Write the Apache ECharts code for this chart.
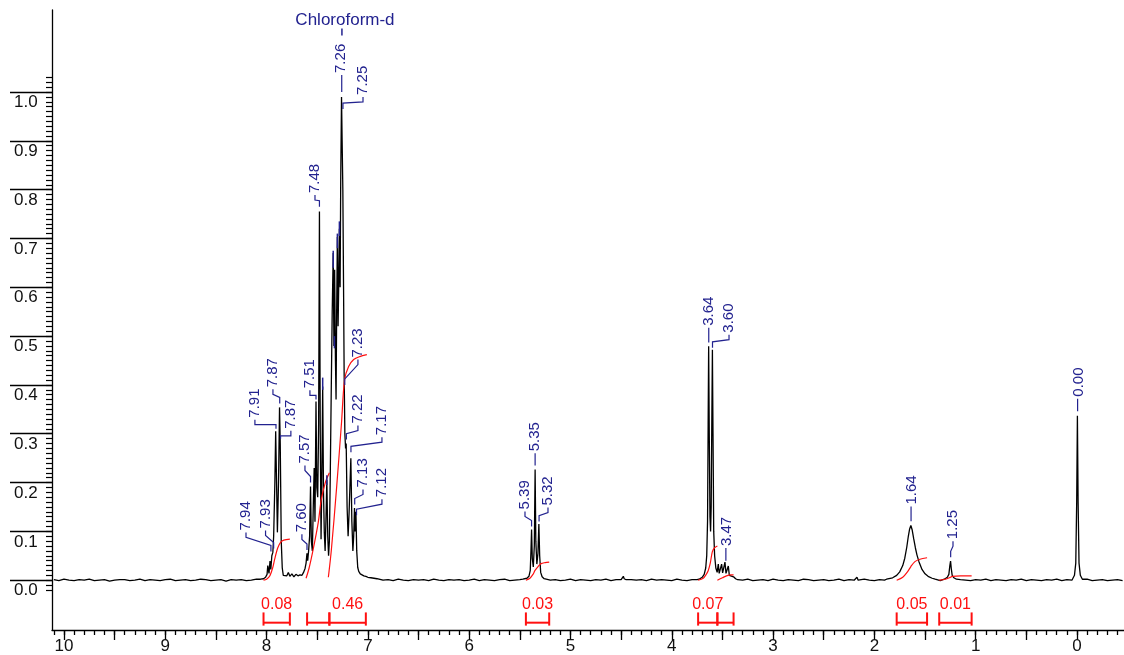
<!DOCTYPE html>
<html>
<head>
<meta charset="utf-8">
<title>1H NMR</title>
<script src="https://cdn.jsdelivr.net/npm/echarts@6/dist/echarts.min.js"></script>
<style>
html,body{margin:0;padding:0;background:#fff;}
#nmr{width:1124px;height:655px;}
</style>
</head>
<body>
<div id="nmr"></div>
<script>
//*******************************    data start   *******************************
// baseline noise, 1/1000 units, every 0.05 ppm from 10.10 down to -0.45
var baseNoise = [
 1,-1,2,0,-1,1,0,2,-1,0,1,-2,0,1,1,-1,0,2,-1,1,
 0,-1,1,2,-1,0,1,-1,0,2,1,-1,0,1,-2,1,0,1,-1,0,
 2,-1,1,0,-1,1,2,0,-1,1,0,-1,2,1,-1,0,1,-1,0,2,
 -1,1,0,-2,1,0,1,-1,2,0,-1,1,0,1,-1,2,0,-1,1,0,
 1,-1,0,2,-1,1,0,-1,1,2,-1,0,1,-1,0,1,2,-1,0,1,
 -1,0,2,-1,1,0,-1,1,0,2,-1,1,0,-2,1,0,1,-1,2,0,
 1,0,-1,2,0,-1,1,1,-1,0,2,-1,1,0,-1,1,0,2,-1,0,
 1,-1,2,0,-1,1,0,-1,2,1,-1,0,1,-1,0,2,-1,1,0,-1,
 2,0,-1,1,0,-1,1,2,-1,0,1,-1,0,1,2,-1,0,1,-1,1,
 0,-1,1,0,2,-1,1,0,-1,1,0,2,-1,1,0,-1,1,0,2,-1,
 1,0,-1,1,2,-1,0,1,-1,0,1,-1
];

// [ppm, intensity]
var aromatic = [
 [8.06,0.002],[8.03,0.003],[8.01,0.006],[7.995,0.012],[7.988,0.03],[7.983,0.033],[7.976,0.014],
 [7.966,0.039],[7.958,0.022],[7.948,0.05],[7.938,0.057],[7.93,0.09],[7.918,0.2],[7.91,0.305],
 [7.903,0.22],[7.893,0.098],[7.882,0.2],[7.872,0.354],[7.865,0.28],[7.855,0.08],[7.845,0.025],
 [7.835,0.01],[7.82,0.014],[7.80,0.009],[7.785,0.016],[7.77,0.008],[7.75,0.013],[7.73,0.007],
 [7.71,0.012],[7.69,0.009],[7.67,0.011],[7.65,0.01],[7.635,0.016],[7.62,0.024],[7.61,0.035],
 [7.601,0.055],[7.594,0.04],[7.585,0.06],[7.575,0.09],[7.566,0.192],[7.558,0.08],[7.548,0.06],
 [7.538,0.16],[7.53,0.23],[7.522,0.12],[7.512,0.366],[7.504,0.19],[7.495,0.17],[7.486,0.32],
 [7.478,0.755],[7.47,0.3],[7.462,0.084],[7.455,0.2],[7.446,0.397],[7.438,0.18],[7.43,0.098],
 [7.422,0.06],[7.414,0.12],[7.405,0.206],[7.396,0.09],[7.388,0.05],[7.38,0.08],[7.372,0.2],
 [7.362,0.38],[7.352,0.55],[7.342,0.67],[7.335,0.48],[7.328,0.636],[7.32,0.45],[7.314,0.37],
 [7.308,0.55],[7.301,0.703],[7.294,0.52],[7.288,0.6],[7.281,0.72],[7.274,0.6],[7.268,0.82],
 [7.26,0.99],[7.254,0.9],[7.247,0.8],[7.24,0.6],[7.234,0.42],[7.227,0.3],[7.22,0.27],
 [7.214,0.28],[7.205,0.15],[7.195,0.09],[7.185,0.14],[7.168,0.25],[7.158,0.12],[7.148,0.06],
 [7.14,0.09],[7.132,0.148],[7.126,0.1],[7.118,0.14],[7.11,0.06],[7.10,0.026],[7.09,0.018],
 [7.075,0.013],[7.06,0.012],[7.04,0.009],[7.02,0.008],[7.0,0.006],[6.97,0.005],[6.94,0.004],
 [6.91,0.003]
];
var olefin = [
 [5.47,0.002],[5.43,0.004],[5.41,0.008],[5.397,0.02],[5.39,0.06],[5.384,0.104],[5.377,0.045],
 [5.367,0.027],[5.357,0.07],[5.349,0.227],[5.342,0.08],[5.332,0.033],[5.321,0.055],[5.312,0.115],
 [5.304,0.05],[5.294,0.016],[5.28,0.007],[5.26,0.003]
];
var smallBump = [[4.5,0.001],[4.478,0.008],[4.47,0.003],[4.462,0.007],[4.45,0.001]];
var methoxy = [
 [3.73,0.002],[3.70,0.006],[3.68,0.012],[3.665,0.025],[3.655,0.05],[3.647,0.12],[3.641,0.32],
 [3.636,0.479],[3.63,0.3],[3.623,0.13],[3.617,0.1],[3.611,0.15],[3.605,0.32],[3.599,0.472],
 [3.593,0.3],[3.586,0.1],[3.577,0.05],[3.565,0.025],[3.552,0.016],[3.541,0.033],[3.532,0.014],
 [3.518,0.018],[3.508,0.033],[3.498,0.015],[3.485,0.017],[3.475,0.037],[3.465,0.014],[3.452,0.012],
 [3.442,0.029],[3.432,0.01],[3.415,0.006],[3.39,0.007],[3.37,0.003]
];
var tinySpike = [[2.185,0.0],[2.172,0.006],[2.16,0.0]];
var broad = [
 [1.88,0.002],[1.82,0.005],[1.78,0.01],[1.75,0.017],[1.72,0.03],[1.70,0.045],[1.68,0.068],
 [1.665,0.09],[1.652,0.105],[1.64,0.112],[1.628,0.104],[1.612,0.085],[1.595,0.066],[1.58,0.052],
 [1.56,0.038],[1.53,0.022],[1.50,0.013],[1.47,0.008],[1.43,0.004]
];
var ethyl = [
 [1.31,0.002],[1.28,0.006],[1.265,0.012],[1.255,0.03],[1.248,0.039],[1.241,0.024],[1.232,0.01],
 [1.215,0.005],[1.19,0.002]
];
var tms = [
 [0.045,0.002],[0.025,0.01],[0.012,0.035],[0.003,0.16],[-0.004,0.337],[-0.011,0.16],
 [-0.02,0.035],[-0.033,0.01],[-0.053,0.002]
];

// [text, label ppm, label bottom, peak ppm, line end]
var peakLabels = [
 ['7.94', 8.203, 0.102, 7.957, 0.059],
 ['7.93', 8.010, 0.106, 7.930, 0.065],
 ['7.91', 8.115, 0.333, 7.907, 0.310],
 ['7.87', 7.937, 0.395, 7.870, 0.362],
 ['7.87', 7.760, 0.310, 7.862, 0.290],
 ['7.60', 7.651, 0.098, 7.601, 0.062],
 ['7.57', 7.621, 0.239, 7.566, 0.200],
 ['7.51', 7.572, 0.393, 7.512, 0.370],
 ['7.48', 7.522, 0.793, 7.478, 0.765],
 ['7.26', 7.266, 1.039, 7.258, 1.000],
 ['7.25', 7.048, 0.994, 7.246, 0.965],
 ['7.23', 7.098, 0.456, 7.228, 0.400],
 ['7.22', 7.098, 0.321, 7.212, 0.288],
 ['7.17', 6.861, 0.297, 7.167, 0.262],
 ['7.13', 7.048, 0.190, 7.130, 0.155],
 ['7.12', 6.861, 0.170, 7.112, 0.133],
 ['5.39', 5.449, 0.145, 5.384, 0.110],
 ['5.35', 5.350, 0.264, 5.349, 0.235],
 ['5.32', 5.222, 0.153, 5.310, 0.120],
 ['3.64', 3.633, 0.521, 3.635, 0.487],
 ['3.60', 3.435, 0.507, 3.598, 0.476],
 ['3.47', 3.455, 0.070, 3.466, 0.040],
 ['1.64', 1.629, 0.155, 1.638, 0.121],
 ['1.25', 1.224, 0.084, 1.247, 0.047],
 ['0.00', -0.020, 0.376, -0.006, 0.346]
];
// picked peaks without visible text: [ppm, top, bottom]
var peakMarks = [
 [7.446,0.415,0.39],[7.405,0.215,0.195],[7.342,0.675,0.64],[7.33,0.5,0.475],
 [7.301,0.71,0.68],[7.281,0.735,0.705]
];
var solvent = ['Chloroform-d', 7.226, 1.147, 7.256, 1.13, 1.116];

// integrals: [from, to, value text]
var integrals = [
 [8.03, 7.77, '0.08'],
 [7.60, 7.38, ''],
 [7.38, 7.02, '0.46'],
 [5.44, 5.21, '0.03'],
 [3.74, 3.55, '0.07'],
 [3.55, 3.39, ''],
 [1.78, 1.48, '0.05'],
 [1.36, 1.04, '0.01']
];
var integralCurves = [
 [[8.03,0],[8.0,0.002],[7.97,0.008],[7.94,0.025],[7.92,0.043],[7.89,0.066],[7.86,0.078],[7.83,0.082],[7.77,0.084]],
 [[7.61,0.004],[7.58,0.025],[7.54,0.063],[7.49,0.118],[7.46,0.165],[7.42,0.2],[7.38,0.22]],
 [[7.39,0.006],[7.36,0.063],[7.31,0.186],[7.26,0.323],[7.23,0.411],[7.19,0.438],[7.14,0.452],[7.08,0.458],[7.01,0.462]],
 [[5.44,0],[5.40,0.004],[5.37,0.012],[5.35,0.02],[5.32,0.028],[5.29,0.034],[5.25,0.036],[5.21,0.037]],
 [[3.74,0],[3.69,0.004],[3.66,0.012],[3.64,0.02],[3.62,0.035],[3.60,0.058],[3.58,0.066],[3.55,0.07]],
 [[3.55,0],[3.50,0.005],[3.46,0.009],[3.42,0.011],[3.39,0.011]],
 [[1.78,0],[1.72,0.006],[1.67,0.018],[1.64,0.028],[1.60,0.038],[1.55,0.043],[1.48,0.046]],
 [[1.36,0],[1.30,0.002],[1.26,0.005],[1.23,0.008],[1.15,0.009],[1.04,0.009]]
];

var xLabels = [0,1,2,3,4,5,6,7,8,9,10];
var yLabels = [0,0.1,0.2,0.3,0.4,0.5,0.6,0.7,0.8,0.9,1.0];
//*******************************    data end   *******************************

var navy = '#22228f';
var red = '#ff1010';
var font = '"Liberation Sans", Arial, sans-serif';

// bracket row under the spectrum (intensity units)
var bracketY = -0.087, bracketTop = -0.066, bracketBottom = -0.093, bracketText = -0.049;

var xMinorTicks = [], xHalfTicks = [], yMinorTicks = [];
for (var i = -4; i <= 101; i++) xMinorTicks.push(i / 10);
for (i = 0; i <= 20; i++) xHalfTicks.push(i / 2);
for (i = -2; i <= 103; i++) yMinorTicks.push(i / 100);

// spectrum = baseline noise outside the peak groups + peak points
var peakGroups = [aromatic, olefin, smallBump, methoxy, tinySpike, broad, ethyl, tms];
var spectrum = [];
baseNoise.forEach(function (n, k) {
    var ppm = +(10.10 - k * 0.05).toFixed(2);
    var inside = peakGroups.some(function (g) {
        return ppm <= g[0][0] && ppm >= g[g.length - 1][0];
    });
    if (!inside) spectrum.push([ppm, n / 1000]);
});
peakGroups.forEach(function (g) { spectrum = spectrum.concat(g); });
spectrum.sort(function (a, b) { return b[0] - a[0]; });

var nmrChart = echarts.init(document.getElementById('nmr'));

var xBase = {
    type: 'value', inverse: true, min: -0.464, max: 10.118,
    position: 'bottom', offset: 0,
    splitLine: {show: false}
};
var yBase = {
    type: 'value', min: -0.102, max: 1.168,
    position: 'left', offset: 0,
    splitLine: {show: false}
};

var series = [{
    type: 'line',
    data: spectrum,
    showSymbol: false,
    lineStyle: {color: '#000', width: 1.3},
    z: 3
}];

integralCurves.forEach(function (c) {
    series.push({
        type: 'line', data: c, showSymbol: false, smooth: 0.3,
        lineStyle: {color: red, width: 1.2}, z: 4
    });
});

// integral brackets and values
series.push({
    type: 'custom',
    data: integrals.map(function (d) { return [d[0], d[1]]; }),
    clip: false,
    z: 5,
    renderItem: function (params, api) {
        var a = api.coord([api.value(0), bracketY]);
        var b = api.coord([api.value(1), bracketY]);
        var top = api.coord([0, bracketTop])[1];
        var bot = api.coord([0, bracketBottom])[1];
        var t = api.coord([(api.value(0) + api.value(1)) / 2, bracketText]);
        var ls = {stroke: red, lineWidth: 2};
        return {
            type: 'group',
            children: [
                {type: 'line', shape: {x1: a[0], y1: a[1], x2: b[0], y2: b[1]}, style: ls},
                {type: 'line', shape: {x1: a[0], y1: top, x2: a[0], y2: bot}, style: ls},
                {type: 'line', shape: {x1: b[0], y1: top, x2: b[0], y2: bot}, style: ls},
                {type: 'text', x: t[0], y: t[1], style: {
                    text: integrals[params.dataIndex][2], fill: red,
                    font: '16px ' + font, align: 'center', verticalAlign: 'middle'
                }}
            ]
        };
    }
});

// peak labels with their leader lines
series.push({
    type: 'custom',
    data: peakLabels.map(function (d) { return [d[1], d[2], d[3], d[4]]; }),
    clip: false,
    z: 6,
    renderItem: function (params, api) {
        var t = api.coord([api.value(0), api.value(1)]);
        var p = api.coord([api.value(2), api.value(3)]);
        var y0 = t[1] + 2, y1 = t[1] + 7;
        var y2 = Math.max(y1, p[1] - 6);
        var pts = Math.abs(t[0] - p[0]) < 1.5
            ? [[p[0], y0], [p[0], p[1]]]
            : [[t[0], y0], [t[0], y1], [p[0], y2], [p[0], p[1]]];
        return {
            type: 'group',
            children: [
                {type: 'text', x: t[0], y: t[1], rotation: Math.PI / 2, style: {
                    text: peakLabels[params.dataIndex][0], fill: navy,
                    font: '15px ' + font, align: 'left', verticalAlign: 'middle'
                }},
                {type: 'polyline', shape: {points: pts}, style: {stroke: navy, lineWidth: 1.2, fill: null}}
            ]
        };
    }
});

// short marks of the hidden picks
series.push({
    type: 'custom',
    data: peakMarks,
    clip: false,
    z: 6,
    renderItem: function (params, api) {
        var a = api.coord([api.value(0), api.value(1)]);
        var b = api.coord([api.value(0), api.value(2)]);
        return {type: 'line', shape: {x1: a[0], y1: a[1], x2: b[0], y2: b[1]},
            style: {stroke: navy, lineWidth: 1.5}};
    }
});

// solvent name
series.push({
    type: 'custom',
    data: [[solvent[1], solvent[2], solvent[3], solvent[4], solvent[5]]],
    clip: false,
    z: 6,
    renderItem: function (params, api) {
        var t = api.coord([api.value(0), api.value(1)]);
        var a = api.coord([api.value(2), api.value(3)]);
        var b = api.coord([api.value(2), api.value(4)]);
        return {
            type: 'group',
            children: [
                {type: 'text', x: t[0], y: t[1], style: {
                    text: solvent[0], fill: navy, font: '17px ' + font,
                    align: 'center', verticalAlign: 'middle'
                }},
                {type: 'line', shape: {x1: a[0], y1: a[1], x2: b[0], y2: b[1]},
                    style: {stroke: navy, lineWidth: 1.5}}
            ]
        };
    }
});

nmrChart.setOption({
    animation: false,
    backgroundColor: '#fff',
    grid: {left: 52, right: 0, top: 10, bottom: 24},
    xAxis: [
        echarts.util.merge({
            axisLine: {onZero: false, lineStyle: {color: '#000', width: 1.3}},
            axisTick: {customValues: xMinorTicks, length: 5, lineStyle: {color: '#000', width: 1.3}},
            axisLabel: {show: false}
        }, xBase),
        echarts.util.merge({
            axisLine: {show: false, onZero: false},
            axisTick: {customValues: xHalfTicks, length: 10, lineStyle: {color: '#000', width: 1.3}},
            axisLabel: {
                customValues: xLabels, margin: 8, color: '#111',
                fontSize: 17, fontFamily: font
            }
        }, xBase)
    ],
    yAxis: [
        echarts.util.merge({
            axisLine: {onZero: false, lineStyle: {color: '#000', width: 1.3}},
            axisTick: {customValues: yLabels, length: 42, lineStyle: {color: '#000', width: 1.3}},
            axisLabel: {
                customValues: yLabels, margin: 38, align: 'left', verticalAlign: 'top',
                padding: [2, 0, 0, 0], color: '#111', fontSize: 17, fontFamily: font,
                formatter: function (v) { return v.toFixed(1); }
            }
        }, yBase),
        echarts.util.merge({
            axisLine: {show: false, onZero: false},
            axisTick: {customValues: yMinorTicks, length: 6, lineStyle: {color: '#000', width: 1.2}},
            axisLabel: {show: false}
        }, yBase)
    ],
    series: series
});
</script>
</body>
</html>
